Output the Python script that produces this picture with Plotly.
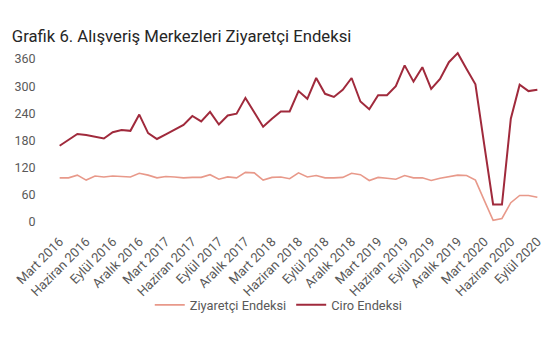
import plotly.graph_objects as go

months = [
    "Mart 2016", "Nisan 2016", "Mayıs 2016", "Haziran 2016", "Temmuz 2016", "Ağustos 2016",
    "Eylül 2016", "Ekim 2016", "Kasım 2016", "Aralık 2016", "Ocak 2017", "Şubat 2017",
    "Mart 2017", "Nisan 2017", "Mayıs 2017", "Haziran 2017", "Temmuz 2017", "Ağustos 2017",
    "Eylül 2017", "Ekim 2017", "Kasım 2017", "Aralık 2017", "Ocak 2018", "Şubat 2018",
    "Mart 2018", "Nisan 2018", "Mayıs 2018", "Haziran 2018", "Temmuz 2018", "Ağustos 2018",
    "Eylül 2018", "Ekim 2018", "Kasım 2018", "Aralık 2018", "Ocak 2019", "Şubat 2019",
    "Mart 2019", "Nisan 2019", "Mayıs 2019", "Haziran 2019", "Temmuz 2019", "Ağustos 2019",
    "Eylül 2019", "Ekim 2019", "Kasım 2019", "Aralık 2019", "Ocak 2020", "Şubat 2020",
    "Mart 2020", "Nisan 2020", "Mayıs 2020", "Haziran 2020", "Temmuz 2020", "Ağustos 2020",
    "Eylül 2020",
]

ziyaretci = [
    97, 97, 103, 92, 101, 99, 101, 100, 99, 107, 103, 97,
    100, 99, 97, 98, 98, 104, 94, 99, 97, 109, 108, 92,
    98, 99, 95, 108, 99, 102, 97, 97, 98, 107, 104, 91,
    98, 96, 94, 102, 97, 97, 91, 96, 99, 103, 102, 92,
    47, 3, 7, 42, 58, 58, 54,
]

ciro = [
    168, 181, 194, 192, 188, 184, 198, 203, 201, 237, 196, 183,
    193, 204, 214, 234, 222, 243, 215, 235, 239, 274, 243, 210,
    228, 244, 244, 289, 272, 318, 283, 276, 292, 318, 266, 249,
    280, 280, 300, 346, 310, 342, 294, 316, 353, 373, 338, 304,
    170, 38, 38, 228, 303, 289, 292,
]

tick_labels = months[::3]
y_ticks = [0, 60, 120, 180, 240, 300, 360]

fig = go.Figure()
fig.add_trace(go.Scatter(
    x=months, y=ziyaretci, mode="lines", name="Ziyaretçi Endeksi",
    line=dict(color="#e8998a", width=1.6),
))
fig.add_trace(go.Scatter(
    x=months, y=ciro, mode="lines", name="Ciro Endeksi",
    line=dict(color="#a02a3c", width=2),
))

font_family = "Roboto, 'Open Sans', sans-serif"

fig.update_layout(
    width=547, height=347,
    template="none",
    paper_bgcolor="white", plot_bgcolor="white",
    margin=dict(l=49.3, r=14.5, t=41.5, b=131.9, autoexpand=False),
    font=dict(family=font_family, size=12, color="#595959"),
    title=dict(
        text="Grafik 6. Alışveriş Merkezleri Ziyaretçi Endeksi",
        xref="container", x=0.007, xanchor="left",
        yref="container", y=0.919, yanchor="middle",
        font=dict(family=font_family, size=16.7, color="#262626"),
    ),
    xaxis=dict(
        type="category", range=[-0.3, 54.3],
        tickmode="array", tickvals=tick_labels, ticktext=tick_labels,
        tickangle=-45, showgrid=False, zeroline=False, showline=False,
        ticks="outside", ticklen=5, tickcolor="rgba(0,0,0,0)",
        automargin=False,
        tickfont=dict(size=13, color="#595959"),
    ),
    yaxis=dict(
        range=[-3, 380], tickmode="array", tickvals=y_ticks,
        showgrid=False, zeroline=False, showline=False,
        ticks="outside", ticklen=18, tickcolor="rgba(0,0,0,0)",
        automargin=False,
        tickfont=dict(size=12.5, color="#595959"),
    ),
    legend=dict(
        orientation="h", xref="container", x=0.495, xanchor="center",
        yref="container", y=0.144, yanchor="middle",
        font=dict(size=12.8, color="#595959"), itemwidth=30,
        bgcolor="rgba(0,0,0,0)",
    ),
    showlegend=True,
)

fig.write_html("out.html")
